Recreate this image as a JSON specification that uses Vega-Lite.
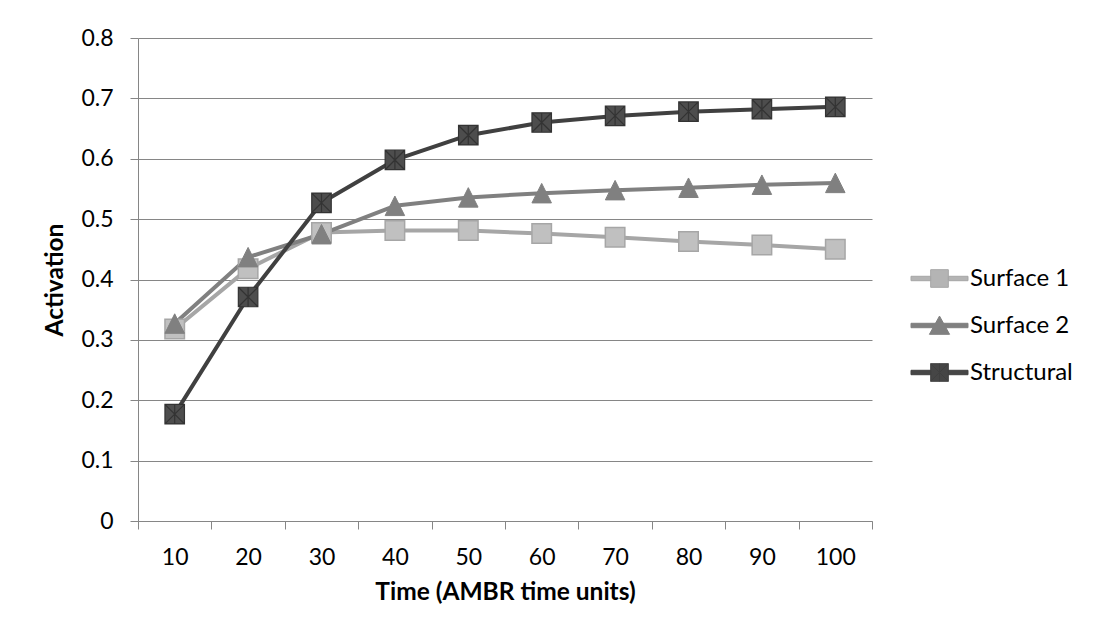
{
  "$schema": "https://vega.github.io/schema/vega-lite/v6.json",
  "width": 734,
  "height": 483,
  "autosize": {"type": "none"},
  "padding": {"left": 138, "top": 38, "right": 224, "bottom": 120},
  "background": "white",
  "config": {
    "view": {"stroke": null},
    "font": "Lato",
    "axis": {
      "labelFont": "Lato",
      "titleFont": "Lato",
      "labelColor": "#000000",
      "titleColor": "#000000",
      "domainColor": "#868686",
      "tickColor": "#868686",
      "gridColor": "#868686"
    }
  },
  "data": {
    "values": [
      {"series": "Surface 1", "time": 10, "value": 0.318},
      {"series": "Surface 1", "time": 20, "value": 0.418},
      {"series": "Surface 1", "time": 30, "value": 0.478},
      {"series": "Surface 1", "time": 40, "value": 0.481},
      {"series": "Surface 1", "time": 50, "value": 0.481},
      {"series": "Surface 1", "time": 60, "value": 0.476},
      {"series": "Surface 1", "time": 70, "value": 0.470},
      {"series": "Surface 1", "time": 80, "value": 0.463},
      {"series": "Surface 1", "time": 90, "value": 0.457},
      {"series": "Surface 1", "time": 100, "value": 0.450},
      {"series": "Surface 2", "time": 10, "value": 0.327},
      {"series": "Surface 2", "time": 20, "value": 0.437},
      {"series": "Surface 2", "time": 30, "value": 0.475},
      {"series": "Surface 2", "time": 40, "value": 0.522},
      {"series": "Surface 2", "time": 50, "value": 0.536},
      {"series": "Surface 2", "time": 60, "value": 0.543},
      {"series": "Surface 2", "time": 70, "value": 0.548},
      {"series": "Surface 2", "time": 80, "value": 0.552},
      {"series": "Surface 2", "time": 90, "value": 0.557},
      {"series": "Surface 2", "time": 100, "value": 0.560},
      {"series": "Structural", "time": 10, "value": 0.177},
      {"series": "Structural", "time": 20, "value": 0.371},
      {"series": "Structural", "time": 30, "value": 0.527},
      {"series": "Structural", "time": 40, "value": 0.598},
      {"series": "Structural", "time": 50, "value": 0.639},
      {"series": "Structural", "time": 60, "value": 0.660},
      {"series": "Structural", "time": 70, "value": 0.671},
      {"series": "Structural", "time": 80, "value": 0.678},
      {"series": "Structural", "time": 90, "value": 0.682},
      {"series": "Structural", "time": 100, "value": 0.686}
    ]
  },
  "encoding": {
    "x": {
      "field": "time",
      "type": "ordinal",
      "bandPosition": 0.5,
      "scale": {"type": "band", "paddingInner": 0, "paddingOuter": 0},
      "axis": {
        "title": "Time (AMBR time units)",
        "labelAngle": 0,
        "tickBand": "extent",
        "tickSize": 8,
        "labelPadding": 17,
        "labelFontSize": 23,
        "titleFontSize": 24.5,
        "titleFontWeight": "bold",
        "titlePadding": 11,
        "grid": false
      }
    },
    "y": {
      "field": "value",
      "type": "quantitative",
      "scale": {"domain": [0, 0.8], "nice": false, "zero": true},
      "axis": {
        "title": "Activation",
        "values": [0, 0.1, 0.2, 0.3, 0.4, 0.5, 0.6, 0.7, 0.8],
        "format": ".1~f",
        "tickSize": 8,
        "labelPadding": 17,
        "labelFontSize": 23,
        "titleFontSize": 24.5,
        "titleFontWeight": "bold",
        "titlePadding": 13,
        "grid": true,
        "gridWidth": 1
      }
    }
  },
  "layer": [
    {
      "mark": {"type": "line", "strokeWidth": 4, "strokeCap": "round", "strokeJoin": "round"},
      "encoding": {
        "color": {
          "field": "series",
          "type": "nominal",
          "scale": {"domain": ["Surface 1", "Surface 2", "Structural"], "range": ["#a6a6a6", "#808080", "#404040"]},
          "legend": {
            "title": null,
            "orient": "none",
            "legendX": 780,
            "legendY": 219,
            "padding": 0,
            "symbolSize": 1764,
            "rowPadding": 13,
            "labelFont": "Lato",
            "labelFontSize": 24,
            "labelColor": "#000000",
            "labelOffset": 9,
            "encode": {
              "symbols": {
                "update": {
                  "shape": {"signal": "datum.value === 'Surface 1' ? 'M-1.357,-0.105H-0.42V0.105H-1.357Z M0.42,-0.105H1.357V0.105H0.42Z M-0.42,-0.42H0.42V0.42H-0.42Z' : datum.value === 'Surface 2' ? 'M-1.357,-0.105H1.357V0.105H-1.357Z M0,-0.45L0.48,0.42L-0.48,0.42Z' : 'M-1.357,-0.105H-0.42V0.105H-1.357Z M0.42,-0.105H1.357V0.105H0.42Z M-0.42,-0.42H0.42V0.42H-0.42Z M-0.42,-0.42L0.42,0.42 M-0.42,0.42L0.42,-0.42 M0,-0.42V0.42'"},
                  "fill": {"signal": "datum.value === 'Surface 1' ? '#b4b4b4' : datum.value === 'Surface 2' ? '#808080' : '#464646'"},
                  "stroke": {"signal": "datum.value === 'Surface 1' ? '#a6a6a6' : datum.value === 'Surface 2' ? '#808080' : '#333333'"},
                  "strokeWidth": {"value": 1},
                  "opacity": {"value": 1}
                }
              }
            }
          }
        }
      }
    },
    {
      "transform": [{"filter": "datum.series === 'Surface 1'"}],
      "mark": {"type": "point", "shape": "square", "filled": true, "fill": "#c0c0c0", "stroke": "#a6a6a6", "strokeWidth": 1.5, "opacity": 1, "size": 380}
    },
    {
      "transform": [{"filter": "datum.series === 'Surface 2'"}],
      "mark": {"type": "point", "shape": "M0,-1L1,1L-1,1Z", "filled": true, "fill": "#808080", "stroke": "#808080", "strokeWidth": 1, "opacity": 1, "size": 380}
    },
    {
      "transform": [{"filter": "datum.series === 'Structural'"}],
      "mark": {"type": "point", "shape": "M-1,-1H1V1H-1Z M-1,-1L1,1 M-1,1L1,-1 M0,-1V1", "filled": true, "fill": "#4d4d4d", "stroke": "#333333", "strokeWidth": 1.2, "opacity": 1, "size": 380}
    }
  ]
}
